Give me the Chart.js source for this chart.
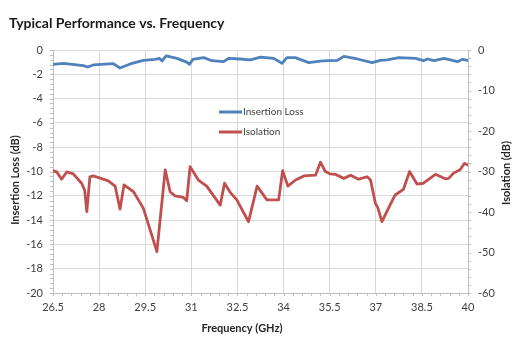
<!DOCTYPE html>
<html>
<head>
<meta charset="utf-8">
<script src="https://cdn.jsdelivr.net/npm/chart.js@4.4.1/dist/chart.umd.min.js"></script>
<style>
  html, body { margin: 0; padding: 0; background: #ffffff; }
  #wrap { width: 525px; height: 342px; }
</style>
</head>
<body>
<div id="wrap"><canvas id="chart" width="525" height="342"></canvas></div>
<script>
// Frequency sweep, GHz
const freqTicks = [26.5, 28, 29.5, 31, 32.5, 34, 35.5, 37, 38.5, 40];

// Insertion loss (left axis, dB)
const freqIL = [26.5, 26.84, 27.27, 27.49, 27.63, 27.81, 28.46, 28.68, 29.01, 29.44,
  29.82, 29.96, 30.05, 30.18, 30.53, 30.85, 30.94, 31.05, 31.4, 31.67,
  32.05, 32.21, 32.59, 32.92, 33.25, 33.68, 33.95, 34.11, 34.38, 34.82,
  35.26, 35.75, 35.96, 36.4, 36.88, 37.15, 37.37, 37.75, 38.3, 38.55,
  38.68, 38.9, 39.22, 39.66, 39.82, 40];
const insertionLoss = [-1.18, -1.10, -1.23, -1.29, -1.40, -1.23, -1.12, -1.48, -1.15, -0.85,
  -0.77, -0.69, -0.90, -0.49, -0.69, -1.00, -1.18, -0.77, -0.63, -0.88,
  -0.96, -0.69, -0.74, -0.82, -0.58, -0.69, -1.10, -0.63, -0.63, -1.04,
  -0.90, -0.85, -0.52, -0.74, -1.04, -0.85, -0.82, -0.63, -0.69, -0.88,
  -0.74, -0.88, -0.69, -0.96, -0.77, -0.85];

// Isolation (right axis, dB)
const freqIso = [26.5, 26.62, 26.78, 26.95, 27.16, 27.43, 27.53, 27.6, 27.7, 27.81,
  28.3, 28.52, 28.68, 28.81, 29.12, 29.44, 29.66, 29.88, 30.15, 30.31,
  30.47, 30.74, 30.85, 30.96, 31.23, 31.5, 31.94, 32.08, 32.27, 32.48,
  32.86, 33.14, 33.46, 33.84, 33.97, 34.14, 34.39, 34.66, 35.04, 35.2,
  35.36, 35.52, 35.68, 35.96, 36.18, 36.44, 36.72, 36.83, 36.99, 37.06,
  37.2, 37.41, 37.63, 37.9, 38.1, 38.34, 38.55, 38.94, 39.26, 39.37,
  39.53, 39.75, 39.88, 40];
const isolation = [-29.8, -30.1, -31.9, -30.1, -30.6, -32.9, -34.6, -39.9, -31.3, -31.1,
  -32.3, -33.6, -39.3, -33.3, -35.0, -39.1, -44.4, -49.8, -29.6, -35.0,
  -36.0, -36.4, -37.2, -28.8, -32.1, -33.6, -38.3, -32.9, -35.2, -37.0,
  -42.4, -33.6, -37.0, -37.0, -29.8, -33.6, -32.1, -31.1, -30.9, -27.7,
  -30.0, -30.6, -30.7, -31.7, -30.9, -31.9, -31.3, -32.1, -37.9, -38.8,
  -42.4, -39.1, -35.8, -34.4, -30.0, -33.1, -32.9, -30.7, -31.8, -31.7,
  -30.4, -29.5, -28.0, -28.4];

const seriesNames = ['Insertion Loss', 'Isolation'];
const seriesColors = ['#4f81bd', '#c0504d'];

const FONT = "Lato, 'Open Sans', 'DejaVu Sans', sans-serif";
const TEXT = '#404040';
const GRID = '#d9d9d9';
const AXIS = '#bfbfbf';

const toPoints = (xs, ys) => xs.map((x, i) => ({ x: x, y: ys[i] }));

// Titles, minor ticks and the in-plot legend
const decorations = {
  id: 'decorations',
  afterDraw(chart) {
    const ctx = chart.ctx;
    const a = chart.chartArea;
    const xs = chart.scales.x, yl = chart.scales.y, yr = chart.scales.y1;
    ctx.save();

    // minor tick marks
    ctx.strokeStyle = AXIS;
    ctx.lineWidth = 1;
    ctx.beginPath();
    for (let v = -20; v <= 0.001; v += 0.4) {
      const py = Math.round(yl.getPixelForValue(v)) + 0.5;
      ctx.moveTo(a.left - 3, py); ctx.lineTo(a.left, py);
    }
    for (let v = -60; v <= 0.001; v += 2) {
      const py = Math.round(yr.getPixelForValue(v)) + 0.5;
      ctx.moveTo(a.right, py); ctx.lineTo(a.right + 3, py);
    }
    for (let v = 26.5; v <= 40.001; v += 0.3) {
      const px = Math.round(xs.getPixelForValue(v)) + 0.5;
      ctx.moveTo(px, a.bottom); ctx.lineTo(px, a.bottom + 3);
    }
    ctx.stroke();

    // chart title
    ctx.fillStyle = '#1a1a1a';
    ctx.font = 'bold 14px ' + FONT;
    ctx.textAlign = 'left';
    ctx.textBaseline = 'middle';
    ctx.fillText('Typical Performance vs. Frequency', 9, 23);

    // axis titles
    ctx.fillStyle = '#262626';
    ctx.font = 'bold 11px ' + FONT;
    ctx.textAlign = 'center';
    ctx.fillText('Frequency (GHz)', 242, 328);

    ctx.save();
    ctx.translate(15, 180);
    ctx.rotate(-Math.PI / 2);
    ctx.fillText('Insertion Loss (dB)', 0, 0);
    ctx.restore();

    ctx.save();
    ctx.translate(506, 173);
    ctx.rotate(-Math.PI / 2);
    ctx.fillText('Isolation (dB)', 0, 0);
    ctx.restore();

    // legend
    ctx.font = '10px ' + FONT;
    ctx.textAlign = 'left';
    ctx.fillStyle = TEXT;
    ctx.lineWidth = 3;
    ctx.lineCap = 'butt';
    [112, 132].forEach((ly, i) => {
      ctx.strokeStyle = seriesColors[i];
      ctx.beginPath();
      ctx.moveTo(219, ly); ctx.lineTo(242, ly);
      ctx.stroke();
      ctx.fillText(seriesNames[i], 243, ly);
    });

    ctx.restore();
  }
};

new Chart(document.getElementById('chart'), {
  type: 'line',
  data: {
    datasets: [
      {
        label: seriesNames[0],
        data: toPoints(freqIL, insertionLoss),
        yAxisID: 'y',
        borderColor: seriesColors[0],
        backgroundColor: seriesColors[0],
        borderWidth: 2.8,
        pointRadius: 0,
        tension: 0,
        borderJoinStyle: 'round',
        borderCapStyle: 'round'
      },
      {
        label: seriesNames[1],
        data: toPoints(freqIso, isolation),
        yAxisID: 'y1',
        borderColor: seriesColors[1],
        backgroundColor: seriesColors[1],
        borderWidth: 2.8,
        pointRadius: 0,
        tension: 0,
        borderJoinStyle: 'round',
        borderCapStyle: 'round'
      }
    ]
  },
  options: {
    responsive: false,
    animation: false,
    events: [],
    layout: { padding: { top: 50, left: 0, right: 0, bottom: 0 } },
    plugins: {
      legend: { display: false },
      title: { display: false },
      tooltip: { enabled: false }
    },
    scales: {
      x: {
        type: 'linear',
        min: 26.5,
        max: 40,
        afterBuildTicks(scale) { scale.ticks = freqTicks.map(v => ({ value: v })); },
        afterFit(scale) { scale.height = 49; },
        ticks: {
          padding: 8,
          color: TEXT,
          font: { family: FONT, size: 11 },
          maxRotation: 0,
          callback: v => String(v)
        },
        grid: { color: GRID, drawTicks: false },
        border: { color: AXIS }
      },
      y: {
        position: 'left',
        min: -20,
        max: 0,
        ticks: {
          stepSize: 2,
          padding: 10,
          color: TEXT,
          font: { family: FONT, size: 11 },
          callback: v => String(v)
        },
        afterFit(scale) { scale.width = 53; },
        grid: { color: GRID, drawTicks: false },
        border: { color: AXIS }
      },
      y1: {
        position: 'right',
        min: -60,
        max: 0,
        ticks: {
          stepSize: 10,
          padding: 10,
          color: TEXT,
          font: { family: FONT, size: 11 },
          callback: v => String(v)
        },
        afterFit(scale) { scale.width = 57; },
        grid: { drawOnChartArea: false, drawTicks: false },
        border: { color: AXIS }
      }
    }
  },
  plugins: [decorations]
});
</script>
</body>
</html>
